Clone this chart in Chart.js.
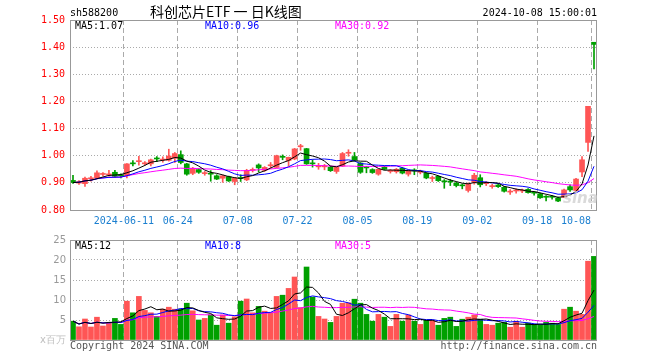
<!DOCTYPE html>
<html><head><meta charset="utf-8">
<script src="https://cdn.jsdelivr.net/npm/chart.js@4"></script>
<style>
html,body{margin:0;padding:0;background:#fff;width:660px;height:360px;overflow:hidden}
#c1{position:absolute;left:0;top:0}
#c2{position:absolute;left:0;top:230px}
</style></head><body>
<canvas id="c1" width="660" height="230"></canvas>
<canvas id="c2" width="660" height="130"></canvas>
<script>
const dates = [
'2024-05-28','2024-05-29','2024-05-30','2024-05-31','2024-06-03','2024-06-04','2024-06-05','2024-06-06','2024-06-07',
'2024-06-11','2024-06-12','2024-06-13','2024-06-14','2024-06-17','2024-06-18','2024-06-19','2024-06-20','2024-06-21',
'2024-06-24','2024-06-25','2024-06-26','2024-06-27','2024-06-28','2024-07-01','2024-07-02','2024-07-03','2024-07-04','2024-07-05',
'2024-07-08','2024-07-09','2024-07-10','2024-07-11','2024-07-12','2024-07-15','2024-07-16','2024-07-17','2024-07-18','2024-07-19',
'2024-07-22','2024-07-23','2024-07-24','2024-07-25','2024-07-26','2024-07-29','2024-07-30','2024-07-31','2024-08-01','2024-08-02',
'2024-08-05','2024-08-06','2024-08-07','2024-08-08','2024-08-09','2024-08-12','2024-08-13','2024-08-14','2024-08-15','2024-08-16',
'2024-08-19','2024-08-20','2024-08-21','2024-08-22','2024-08-23','2024-08-26','2024-08-27','2024-08-28','2024-08-29','2024-08-30',
'2024-09-02','2024-09-03','2024-09-04','2024-09-05','2024-09-06','2024-09-09','2024-09-10','2024-09-11','2024-09-12','2024-09-13',
'2024-09-18','2024-09-19','2024-09-20','2024-09-23','2024-09-24','2024-09-25','2024-09-26','2024-09-27','2024-09-30','2024-10-08'];

const open = [
0.909,0.899,0.897,0.915,0.918,0.931,0.929,0.939,0.930,0.926,
0.973,0.978,0.970,0.970,0.990,0.984,0.983,0.991,1.004,0.970,
0.935,0.949,0.934,0.934,0.926,0.917,0.923,0.905,0.918,0.911,
0.946,0.966,0.946,0.963,0.957,0.996,0.982,0.988,1.033,1.026,
0.972,0.959,0.959,0.958,0.942,0.962,1.009,0.997,0.973,0.957,
0.949,0.932,0.958,0.942,0.941,0.954,0.932,0.946,0.939,0.935,
0.916,0.924,0.906,0.905,0.899,0.891,0.872,0.902,0.919,0.897,
0.886,0.892,0.884,0.866,0.870,0.870,0.876,0.864,0.860,0.849,
0.849,0.845,0.847,0.886,0.872,0.940,1.049,1.418];
const high = [
0.928,0.908,0.921,0.924,0.944,0.938,0.946,0.946,0.933,0.971,
0.982,0.998,0.978,0.988,0.997,0.996,1.024,1.012,1.018,0.972,
0.957,0.952,0.942,0.945,0.930,0.929,0.925,0.920,0.930,0.950,
0.955,0.970,0.960,0.975,1.002,1.003,0.995,1.027,1.042,1.027,
0.985,0.972,0.968,0.962,0.958,1.012,1.022,1.012,0.975,0.960,
0.952,0.951,0.962,0.949,0.953,0.957,0.948,0.952,0.947,0.938,
0.925,0.926,0.912,0.913,0.903,0.896,0.900,0.935,0.930,0.905,
0.895,0.897,0.887,0.875,0.878,0.877,0.879,0.867,0.862,0.853,
0.853,0.848,0.877,0.893,0.917,0.997,1.182,1.418];
const low = [
0.898,0.894,0.887,0.906,0.915,0.926,0.925,0.920,0.918,0.918,
0.962,0.965,0.965,0.962,0.978,0.976,0.980,0.975,0.970,0.928,
0.930,0.935,0.928,0.906,0.912,0.902,0.905,0.893,0.905,0.908,
0.940,0.940,0.942,0.955,0.955,0.985,0.962,0.985,1.020,0.968,
0.958,0.950,0.948,0.942,0.935,0.960,0.998,0.980,0.935,0.937,
0.935,0.928,0.948,0.936,0.936,0.933,0.925,0.930,0.933,0.915,
0.905,0.905,0.880,0.890,0.885,0.878,0.866,0.895,0.885,0.890,
0.880,0.883,0.866,0.857,0.862,0.864,0.862,0.855,0.843,0.833,
0.840,0.831,0.845,0.868,0.868,0.923,1.016,1.320];
const close = [
0.901,0.904,0.917,0.917,0.937,0.933,0.933,0.924,0.926,0.970,
0.970,0.981,0.974,0.985,0.988,0.987,0.999,1.008,0.975,0.932,
0.954,0.939,0.936,0.932,0.914,0.926,0.907,0.917,0.916,0.946,
0.948,0.955,0.957,0.966,1.000,0.994,0.994,1.025,1.036,0.970,
0.970,0.962,0.962,0.945,0.957,1.008,1.012,0.984,0.939,0.955,
0.938,0.950,0.950,0.944,0.950,0.936,0.945,0.944,0.941,0.918,
0.919,0.908,0.904,0.903,0.890,0.889,0.896,0.928,0.893,0.900,
0.888,0.886,0.869,0.869,0.873,0.872,0.864,0.862,0.845,0.847,
0.847,0.833,0.874,0.874,0.914,0.985,1.182,1.410];
// volume, millions
const volume = [
4.7,3.3,5.25,3.25,5.7,3.5,4.3,5.4,3.9,9.7,
6.8,10.9,7.4,6.8,5.9,7.7,8.2,7.7,7.7,9.2,
7.3,5.0,5.4,6.3,3.7,6.25,4.2,5.8,9.7,10.25,
6.8,8.4,7.2,6.8,10.9,11.2,12.9,15.75,8.1,18.25,
10.75,5.9,5.25,4.4,5.9,9.2,9.3,10.2,9.2,6.4,
4.7,6.4,5.7,3.4,6.4,4.7,6.25,4.7,3.9,4.9,
4.9,3.7,5.4,5.7,3.4,5.2,5.7,6.25,5.2,3.9,
3.7,4.2,4.4,3.2,4.7,3.2,4.2,3.9,3.9,4.4,
4.2,3.9,7.7,8.2,7.2,6.4,19.7,20.9];

const tickDates  = ['2024-06-11','2024-06-24','2024-07-08','2024-07-22','2024-08-05','2024-08-19','2024-09-02','2024-09-18','2024-10-08'];
const tickLabels = ['2024-06-11','06-24','07-08','07-22','08-05','08-19','09-02','09-18','10-08'];
const priceLegend = ['MA5:1.07','MA10:0.96','MA30:0.92'];
const volLegend = ['MA5:12','MA10:8','MA30:5'];
const volUnit = 'x百万';

const UP = '#ff5555', DOWN = '#00a000';
const MA_COLORS = ['#000000','#0000ff','#ff00ff'];
const MONO = '"DejaVu Sans Mono", "Liberation Mono", monospace';

function movingAverage(arr, n) {
  return arr.map((v, i) => {
    const s = arr.slice(Math.max(0, i - n + 1), i + 1);
    return s.reduce((a, b) => a + b, 0) / s.length;
  });
}

const N = dates.length;
const xs = dates.map((d, i) => i + 0.5);
const colors = close.map((c, i) => c >= open[i] ? UP : DOWN);
const tickIdx = tickDates.map(d => dates.indexOf(d));
// the last label is kept inside the plot frame (shifted left like the original)
const labelFor = v => {
  const k = tickIdx.indexOf(Math.round(v));
  if (k < 0) return '';
  return k === tickLabels.length - 1 ? tickLabels[k] + '     ' : tickLabels[k];
};

function maLine(values, n, color) {
  const m = movingAverage(values, n);
  return { type: 'line', data: m.map((y, i) => ({ x: xs[i], y })), borderColor: color, borderWidth: 1,
           pointRadius: 0, tension: 0, order: 1, fill: false };
}

const framePlugin = {
  id: 'frame',
  afterDraw(chart) {
    const { ctx, chartArea: a } = chart;
    ctx.save();
    ctx.strokeStyle = '#999';
    ctx.lineWidth = 1;
    ctx.strokeRect(Math.round(a.left) + 0.5, Math.round(a.top) + 0.5, Math.round(a.right - a.left) - 1, Math.round(a.bottom - a.top));
    ctx.restore();
  }
};

const headerPlugin = {
  id: 'header',
  afterDraw(chart) {
    const { ctx } = chart;
    ctx.save();
    ctx.textBaseline = 'middle';
    ctx.fillStyle = '#000';
    ctx.font = '10px ' + MONO;
    ctx.textAlign = 'left';
    ctx.fillText('sh588200', 70, 13);
    ctx.textAlign = 'right';
    ctx.fillText('2024-10-08 15:00:01', 597, 13);
    ctx.textAlign = 'left';
    ctx.font = '14px "Noto Sans CJK SC", sans-serif';
    ctx.fillText('科创芯片ETF 一 日K线图', 150, 12);
    ctx.font = '10px ' + MONO;
    const lx = [75, 205, 335];
    priceLegend.forEach((t, i) => { ctx.fillStyle = MA_COLORS[i]; ctx.fillText(t, lx[i], 26); });
    ctx.font = 'italic bold 15px "DejaVu Sans", sans-serif';
    ctx.fillStyle = 'rgba(205,205,205,0.75)';
    ctx.fillText('sina', 563, 199);
    ctx.restore();
  }
};

const volTextPlugin = {
  id: 'voltext',
  afterDraw(chart) {
    const { ctx } = chart;
    ctx.save();
    ctx.textBaseline = 'middle';
    ctx.font = '10px ' + MONO;
    const lx = [75, 205, 335];
    volLegend.forEach((t, i) => { ctx.fillStyle = MA_COLORS[i]; ctx.textAlign = 'left'; ctx.fillText(t, lx[i], 16); });
    ctx.fillStyle = '#555';
    ctx.textAlign = 'left';
    ctx.fillText('Copyright 2024 SINA.COM', 70, 116);
    ctx.textAlign = 'right';
    ctx.fillText('http://finance.sina.com.cn', 597, 116);
    ctx.restore();
  }
};

const xScale = (showLabels, h) => ({
  type: 'linear', min: 0, max: N, offset: false,
  afterFit(s) { s.height = h; },
  afterBuildTicks(s) { s.ticks = tickIdx.map(v => ({ value: v })); },
  ticks: { display: showLabels, autoSkip: false, maxRotation: 0, minRotation: 0, padding: 5,
           color: '#1a7fd0', font: { family: MONO, size: 10 }, callback: v => labelFor(v) },
  grid: { color: '#aaa', lineWidth: 1, drawTicks: false, offset: false },
  border: { display: false, dash: [5, 3] }
});

new Chart(document.getElementById('c1'), {
  type: 'bar',
  data: { datasets: [
    { data: xs.map((x, i) => ({ x, y: [low[i], high[i]] })), backgroundColor: colors, barThickness: 1,
      grouped: false, order: 3, minBarLength: 1 },
    { data: xs.map((x, i) => ({ x, y: [open[i], close[i]] })), backgroundColor: colors, barThickness: 5,
      grouped: false, order: 2, minBarLength: 1 },
    maLine(close, 5, MA_COLORS[0]),
    maLine(close, 10, MA_COLORS[1]),
    maLine(close, 30, MA_COLORS[2])
  ]},
  options: {
    responsive: false, animation: false, devicePixelRatio: 1,
    layout: { padding: { top: 20, right: 63, left: 0, bottom: 0 } },
    plugins: { legend: { display: false }, tooltip: { enabled: false } },
    scales: {
      x: xScale(true, 20),
      y: { min: 0.8, max: 1.5,
           afterFit(s) { s.width = 70; },
           ticks: { stepSize: 0.1, padding: 5, color: '#ff0000', font: { family: MONO, size: 10 }, callback: v => Number(v).toFixed(2) },
           grid: { color: '#aaa', lineWidth: 1, drawTicks: false },
           border: { display: false, dash: [1, 2] } }
    }
  },
  plugins: [framePlugin, headerPlugin]
});

new Chart(document.getElementById('c2'), {
  type: 'bar',
  data: { datasets: [
    { data: xs.map((x, i) => ({ x, y: volume[i] })), backgroundColor: colors, barThickness: 5, grouped: false, order: 2 },
    maLine(volume, 5, MA_COLORS[0]),
    maLine(volume, 10, MA_COLORS[1]),
    maLine(volume, 30, MA_COLORS[2])
  ]},
  options: {
    responsive: false, animation: false, devicePixelRatio: 1,
    layout: { padding: { top: 10, right: 63, left: 0, bottom: 0 } },
    plugins: { legend: { display: false }, tooltip: { enabled: false } },
    scales: {
      x: xScale(false, 20),
      y: { min: 0, max: 25,
           afterFit(s) { s.width = 70; },
           ticks: { stepSize: 5, padding: 4, font: { family: '"DejaVu Sans", sans-serif', size: 10 },
                    color: ctx => ctx.tick && ctx.tick.value === 0 ? '#c0c0c0' : '#999',
                    callback: v => v === 0 ? volUnit : String(v) },
           grid: { color: '#aaa', lineWidth: 1, drawTicks: false },
           border: { display: false, dash: [1, 2] } }
    }
  },
  plugins: [framePlugin, volTextPlugin]
});
</script>
</body></html>
